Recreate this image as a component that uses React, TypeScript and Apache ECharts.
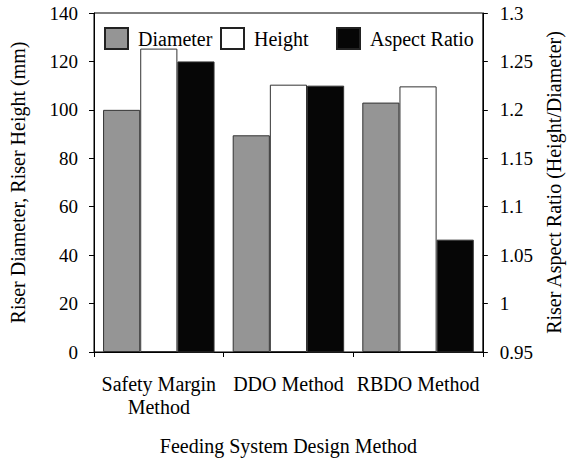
import React, { useEffect, useRef } from "react";
import * as echarts from "echarts";

const categories = ["Safety Margin\nMethod", "DDO Method", "RBDO Method"];
const diameter = [100, 89.5, 103];
const height = [125.3, 110.4, 109.7];
const aspectRatio = [1.25, 1.225, 1.066];
const leftTicks = { min: 0, max: 140, interval: 20 };
const rightTicks = { min: 0.95, max: 1.3, interval: 0.05 };

const FONT = "'Liberation Serif', 'Times New Roman', serif";

export default function App() {
  const ref = useRef<HTMLDivElement>(null);
  useEffect(() => {
    if (!ref.current) return;
    const chart = echarts.init(ref.current, undefined, { renderer: "svg" });
    const legendBase = {
      top: 22,
      itemWidth: 23,
      itemHeight: 21,
      icon: "rect",
      textStyle: { fontFamily: FONT, fontSize: 20, color: "#000", padding: [0, 0, 0, 5] },
      itemStyle: { borderWidth: 2, borderColor: "#222" },
    };
    chart.setOption({
      animation: false,
      backgroundColor: "#fff",
      textStyle: { fontFamily: FONT },
      legend: [
        { ...legendBase, left: 99, data: ["Diameter"] },
        { ...legendBase, left: 215, data: ["Height"] },
        { ...legendBase, left: 331, data: ["Aspect Ratio"] },
      ],
      grid: {
        left: 94,
        right: 88,
        top: 13,
        bottom: 107,
        show: true,
        borderColor: "#000",
        borderWidth: 1,
        backgroundColor: "transparent",
      },
      xAxis: {
        type: "category",
        data: categories,
        axisLine: { lineStyle: { color: "#000" } },
        axisTick: { show: true, length: 5, lineStyle: { color: "#000" } },
        axisLabel: {
          fontFamily: FONT,
          fontSize: 20,
          color: "#000",
          margin: 20,
          lineHeight: 23,
          interval: 0,
        },
        name: "Feeding System Design Method",
        nameLocation: "middle",
        nameGap: 84,
        nameTextStyle: { fontFamily: FONT, fontSize: 20, color: "#000" },
      },
      yAxis: [
        {
          type: "value",
          ...leftTicks,
          splitLine: { show: false },
          axisLine: { show: true, lineStyle: { color: "#000" } },
          axisTick: { show: true, length: 5, lineStyle: { color: "#000" } },
          axisLabel: { fontFamily: FONT, fontSize: 19, color: "#000", margin: 16 },
          name: "Riser Diameter, Riser Height (mm)",
          nameLocation: "middle",
          nameGap: 66,
          nameTextStyle: { fontFamily: FONT, fontSize: 20, color: "#000" },
        },
        {
          type: "value",
          ...rightTicks,
          position: "right",
          splitLine: { show: false },
          axisLine: { show: true, lineStyle: { color: "#000" } },
          axisTick: { show: true, length: 5, lineStyle: { color: "#000" } },
          axisLabel: {
            fontFamily: FONT,
            fontSize: 19,
            color: "#000",
            margin: 17,
            formatter: (v: number) => String(Math.round(v * 100) / 100),
          },
          name: "Riser Aspect Ratio (Height/Diameter)",
          nameLocation: "middle",
          nameGap: 58,
          nameRotate: 90,
          nameTextStyle: { fontFamily: FONT, fontSize: 20, color: "#000" },
        },
      ],
      series: [
        {
          name: "Diameter",
          type: "bar",
          yAxisIndex: 0,
          data: diameter,
          barGap: "0%",
          barCategoryGap: "14%",
          itemStyle: { color: "#959595", borderColor: "#333", borderWidth: 1 },
        },
        {
          name: "Height",
          type: "bar",
          yAxisIndex: 0,
          data: height,
          barGap: "0%",
          barCategoryGap: "14%",
          itemStyle: { color: "#fff", borderColor: "#333", borderWidth: 1 },
        },
        {
          name: "Aspect Ratio",
          type: "bar",
          yAxisIndex: 1,
          data: aspectRatio,
          barGap: "0%",
          barCategoryGap: "14%",
          clip: true,
          itemStyle: { color: "#060606", borderColor: "#333", borderWidth: 1 },
        },
      ],
    });
    return () => chart.dispose();
  }, []);
  return <div ref={ref} style={{ width: 572, height: 461, position: "absolute", left: 0, top: 0 }} />;
}
